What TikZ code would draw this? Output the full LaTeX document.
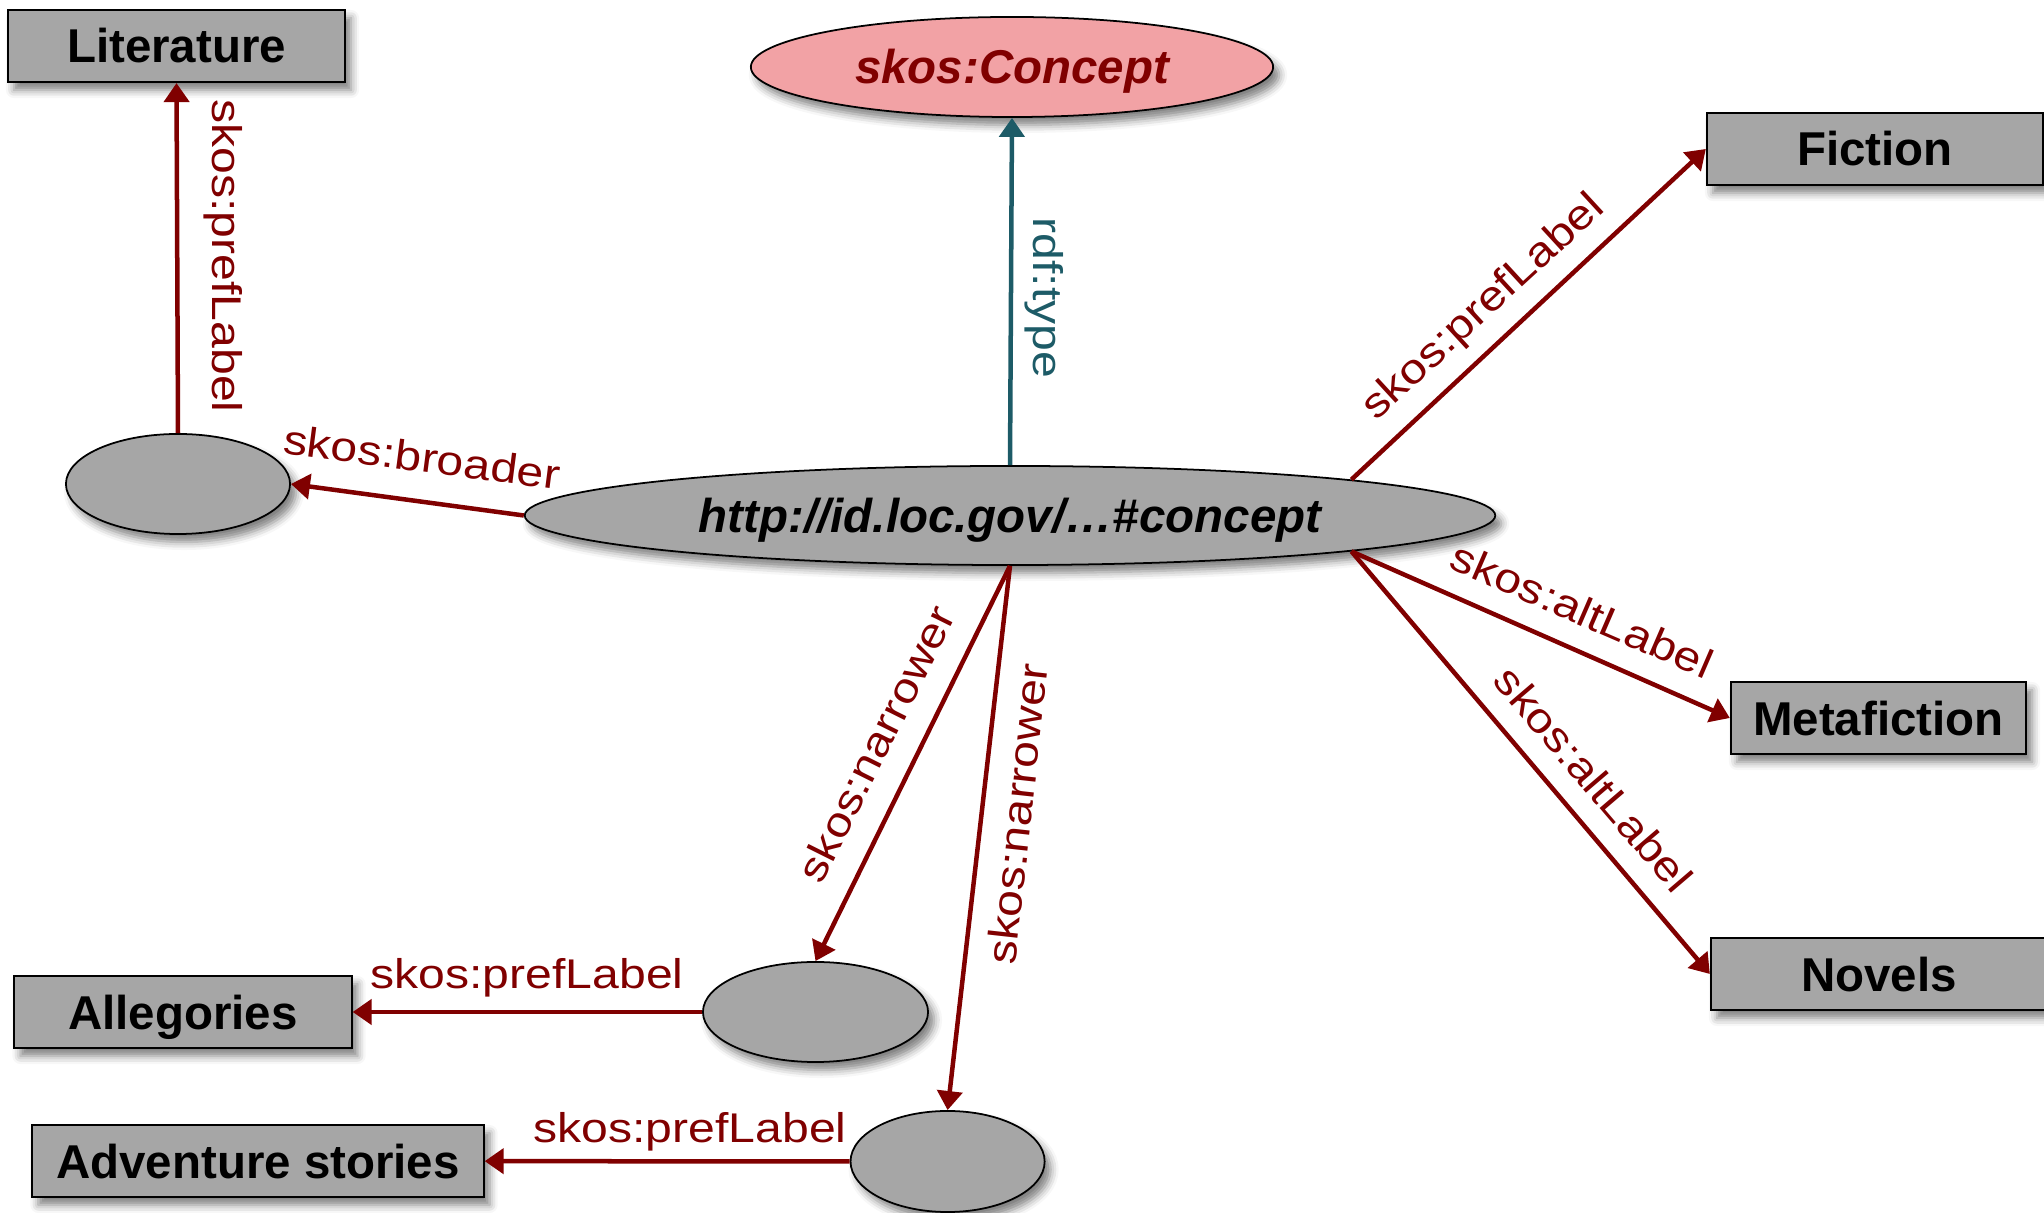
\documentclass[tikz,border=0pt]{standalone}
\usepackage{fontspec}
\setmainfont{Liberation Sans}
\newfontfamily\edgefont[FakeStretch=1.16]{Liberation Sans}
\usetikzlibrary{shapes.geometric,arrows.meta,shadows.blur}
\definecolor{boxgray}{HTML}{A6A6A6}
\definecolor{conceptpink}{HTML}{F2A2A5}
\definecolor{relred}{HTML}{800000}
\definecolor{typeteal}{HTML}{1D5B67}

\begin{document}
\begin{tikzpicture}[x=0.01cm,y=-0.01cm,
  softshadow/.style={blur shadow={shadow xshift=0.6mm, shadow yshift=-0.8mm,
      shadow blur radius=0.8mm, shadow opacity=50}},
  bigfont/.style={font=\fontsize{13.5}{16}\selectfont\bfseries,
      text height=0.34cm, text depth=0cm},
  term/.style={rectangle, draw=black, line width=0.6pt, fill=boxgray, softshadow,
      minimum height=0.72cm, inner sep=0pt, bigfont},
  resource/.style={ellipse, draw=black, line width=0.5pt, fill=boxgray, softshadow,
      inner sep=0pt, minimum height=1cm},
  rel/.style={draw=relred, line width=0.45mm, -{Triangle[length=1.9mm,width=2.5mm]}},
  rellabel/.style={text=relred, inner sep=0pt, font=\edgefont\fontsize{11.8}{14}\selectfont},
]
\useasboundingbox (0,0) rectangle (2044,1213);
\clip (0,0) rectangle (2044,1213);

% literal values
\node[term, minimum width=3.37cm] (lit)   at (176.5,46)  {Literature};
\node[term, minimum width=3.36cm] (fic)   at (1875,149)  {Fiction};
\node[term, minimum width=2.95cm] (meta)  at (1878.5,718) {Metafiction};
\node[term, minimum width=3.36cm] (nov)   at (1879,974)  {Novels};
\node[term, minimum width=3.37cm] (alleg) at (183,1012)  {Allegories};
\node[term, minimum width=4.51cm] (adv)   at (258,1161)  {Adventure stories};

% resources
\node[resource, minimum width=9.7cm, minimum height=0.99cm, bigfont, font=\fontsize{13.5}{16}\selectfont\bfseries\itshape]
  (main) at (1010,515.5) {http://id.loc.gov/…\#concept};
\node[resource, fill=conceptpink, minimum width=5.22cm, text=relred, bigfont,
  font=\fontsize{13.5}{16}\selectfont\bfseries\itshape]
  (concept) at (1012,67) {skos:Concept};
\node[resource, minimum width=2.24cm] (broad)  at (178,484) {};
\node[resource, minimum width=2.25cm] (allegN) at (815.5,1012) {};
\node[resource, minimum width=1.94cm, minimum height=1.01cm] (advN) at (947.6,1161.5) {};

% relations
\draw[rel] (broad.north) -- (lit.south);
\draw[rel, draw=typeteal] (main.north) -- (concept.south);
\draw[rel] (main.west) -- (broad.east);
\draw[rel] (main.6) -- (fic.west);
\draw[rel] (main.-6.3) -- (meta.west);
\draw[rel] (main.-6.5) -- (nov.west);
\draw[rel] (main.south) -- (allegN.north);
\draw[rel] (main.south) -- (advN.north);
\draw[rel] (allegN) -- (alleg);
\draw[rel] (advN) -- (adv);

% relation names
\node[rellabel, rotate=-90] (tLit) at (223,256) {skos:prefLabel};
\node[rellabel, rotate=-90, text=typeteal] (tType) at (1044,298) {rdf:type};
\node[rellabel, rotate=-7.4] (tBroad) at (422,457) {skos:broader};
\node[rellabel, rotate=42.6] (tFic) at (1484,308) {skos:prefLabel};
\node[rellabel, rotate=-23.4] (tMeta) at (1582,610) {skos:altLabel};
\node[rellabel, rotate=-49.5] (tNov) at (1594,779) {skos:altLabel};
\node[rellabel, rotate=63.5] (tNarA) at (876,744) {skos:narrower};
\node[rellabel, rotate=83.7] (tNarB) at (1017,814) {skos:narrower};
\node[rellabel] (tAlleg) at (527,978) {skos:prefLabel};
\node[rellabel] (tAdv) at (690,1132) {skos:prefLabel};
\end{tikzpicture}
\end{document}
